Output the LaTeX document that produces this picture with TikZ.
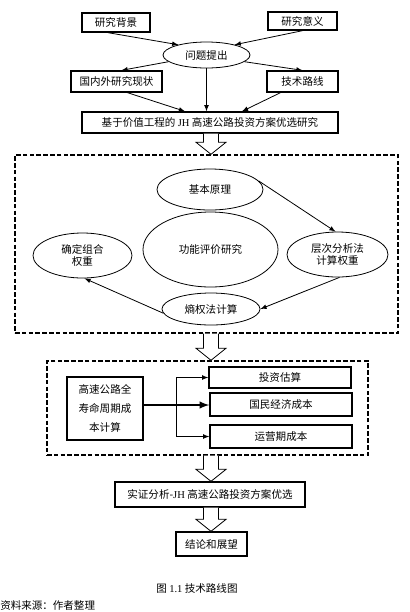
\documentclass[tikz,border=0pt]{standalone}
\usepackage{fontspec}
\setmainfont{Liberation Serif}
\newfontfamily\cjk{Noto Sans CJK SC}
\usetikzlibrary{arrows,calc}
\usetikzlibrary{shapes}

\tikzset{
  box/.style={draw,rectangle,line width=1pt,inner sep=1pt,align=center},
  oval/.style={draw,ellipse,line width=0.6pt,inner sep=0pt,align=center},
  dashbox/.style={draw,rectangle,line width=1.1pt,dash pattern=on 3.5pt off 1.6pt},
  hollow/.style={draw,fill=white,line width=0.6pt},
  con/.style={->,>=latex,line width=0.6pt}
}

\begin{document}
\begin{tikzpicture}[x=0.75pt,y=-0.75pt,font=\cjk\fontsize{7.9}{9.5}\selectfont]
      \useasboundingbox (0,0) rectangle (410,612);

      \node[box,minimum width=51pt,minimum height=14.25pt] (bg) at (116,22.5) {研究背景};
      \node[box,minimum width=51.75pt,minimum height=13.5pt] (yy) at (302.5,21) {研究意义};
      \node[oval,minimum width=65.25pt,minimum height=19.5pt] (wt) at (206.5,55) {问题提出};
      \node[box,minimum width=68.25pt,minimum height=15.75pt] (xz) at (116.5,81.5) {国内外研究现状};
      \node[box,minimum width=53.25pt,minimum height=15.75pt] (lx) at (302.5,81.5) {技术路线};
      \node[box,minimum width=192pt,minimum height=15.75pt] (zt) at (210,122.5) {基于价值工程的 {\rmfamily JH} 高速公路投资方案优选研究};

      \draw[con] ($(bg.south)+(-8,0)$) -- (wt.160);
      \draw[con] (yy.south) -- (wt.20);
      \draw[con] (wt.190) -- ($(xz.north)+(5,0)$);
      \draw[con] (wt.350) -- (lx.north);
      \draw[con] (wt.south) -- (wt.south |- zt.north);
      \draw[con] ($(xz.south)+(11,0)$) -- ($(zt.north)+(-25,0)$);
      \draw[con] ($(lx.south)+(-22,0)$) -- ($(zt.north)+(32,0)$);

      % function evaluation part
      \node[dashbox,minimum width=287.25pt,minimum height=133.5pt] (kj1) at (206.5,244) {};
      \node[oval,minimum width=79.5pt,minimum height=30.75pt] (yl) at (210,189.5) {基本原理};
      \node[oval,minimum width=101.25pt,minimum height=56.25pt] (gn) at (210.5,249.5) {功能评价研究};
      \node[oval,minimum width=74.25pt,minimum height=33.75pt] (zh) at (82.5,255.5) {确定组合\\权重};
      \node[oval,minimum width=75.75pt,minimum height=33.75pt] (ahp) at (337.5,254.5) {层次分析法\\计算权重};
      \node[oval,minimum width=73.5pt,minimum height=24pt] (sq) at (211,309) {熵权法计算};

      \draw[con] (yl.10) -- (ahp.95);
      \draw[con] (ahp.-85) -- (sq.0);
      \draw[con] (sq.185) -- (zh.-85);

      % life cycle cost part
      \node[dashbox,minimum width=240.75pt,minimum height=70.5pt] (kj2) at (207.5,408) {};
      \node[box,minimum width=57pt,minimum height=47.25pt,font=\cjk\fontsize{7.9}{14}\selectfont] (cb) at (105,408.5) {高速公路全\\寿命周期成\\本计算};
      \node[box,minimum width=106.5pt,minimum height=15.75pt] (tz) at (280,377.5) {投资估算};
      \node[box,minimum width=106.5pt,minimum height=17.25pt] (gm) at (281,404.5) {国民经济成本};
      \node[box,minimum width=106.5pt,minimum height=17.25pt] (yq) at (281,436.5) {运营期成本};

      \coordinate (fz) at (176,405);
      \draw[line width=1.5pt] (cb.east |- fz) -- (fz);
      \draw[con,line width=1.5pt] (fz) -- (gm.west |- fz);
      \draw[con] (fz) |- (tz.west);
      \draw[con] (fz) |- (yq.west);

      \node[box,minimum width=142.5pt,minimum height=18.75pt] (sz) at (210,494.5) {实证分析-{\rmfamily JH} 高速公路投资方案优选};
      \node[box,minimum width=53.25pt,minimum height=18pt] (jl) at (211.5,544) {结论和展望};

      \node (tt) at (197,588) {图 {\rmfamily 1.1} 技术路线图};
      \node[anchor=west,inner sep=0pt] (ly) at (0,605.5) {资料来源：作者整理};

      % hollow arrows
      \coordinate (ax) at (211,0);
      \foreach \a/\b in {zt/kj1,kj1/kj2,kj2/sz,sz/jl}
        \draw[hollow] ($(\a.south -| ax)+(-7.5,0)$) -- ($(\b.north -| ax)+(-7.5,-12)$)
          -- ($(\b.north -| ax)+(-15,-12)$) -- (\b.north -| ax) -- ($(\b.north -| ax)+(15,-12)$)
          -- ($(\b.north -| ax)+(7.5,-12)$) -- ($(\a.south -| ax)+(7.5,0)$);

    \end{tikzpicture}
\end{document}
